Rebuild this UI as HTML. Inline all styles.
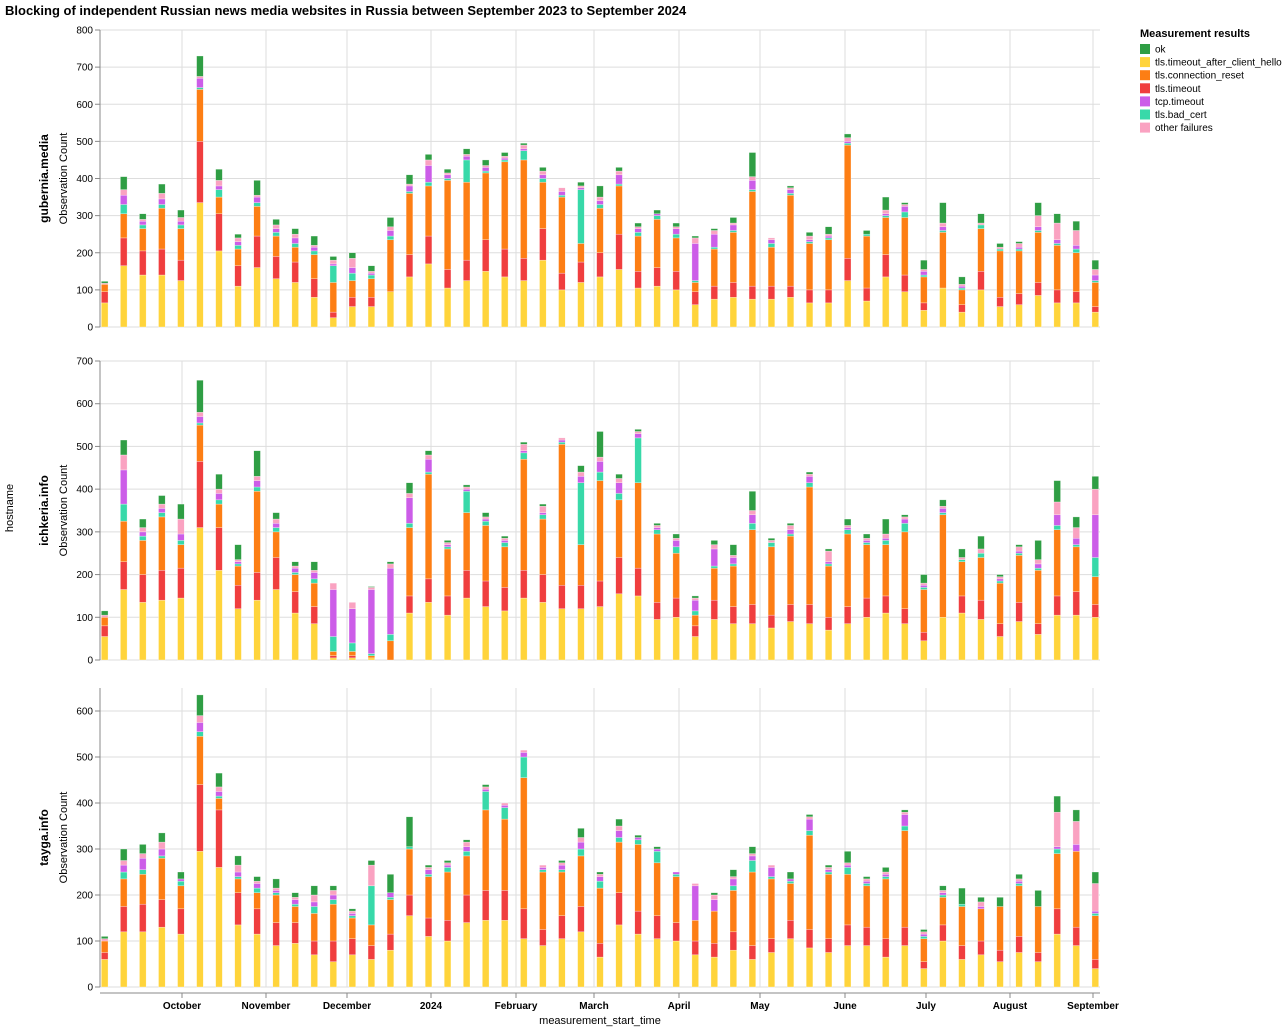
<!DOCTYPE html>
<html><head><meta charset="utf-8">
<style>
body{margin:0;background:#fff;}
svg text{font-family:"Liberation Sans",Arial,sans-serif;}
</style></head>
<body>
<svg id="s" width="1287" height="1030" xmlns="http://www.w3.org/2000/svg"></svg>
<script>
// data per bar: [yel, red, org, pur, teal, pink, green]
const P1=[[65,30,20,0,0,3,5],[165,75,65,25,25,15,35],[140,65,60,10,10,5,15],[140,70,110,15,10,15,25],[125,55,85,10,10,10,20],[335,165,140,25,5,5,55],[205,100,45,10,20,15,30],[110,55,45,10,10,10,10],[160,85,80,15,10,5,40],[130,60,55,10,10,10,15],[120,55,40,15,10,10,15],[80,50,65,10,10,5,25],[25,15,80,5,45,10,10],[55,25,45,15,20,25,15],[55,25,50,5,10,5,15],[95,0,140,15,10,10,25],[135,60,165,15,5,5,25],[170,75,135,45,10,15,15],[105,50,240,10,5,5,10],[125,55,210,10,60,5,15],[150,85,180,10,5,5,15],[135,75,235,5,5,5,10],[125,60,265,5,25,10,5],[180,85,125,10,10,10,10],[100,45,205,10,5,10,0],[120,55,50,5,145,5,10],[135,65,120,10,10,10,30],[155,95,130,25,5,10,10],[105,45,95,10,10,5,10],[110,50,130,5,10,0,10],[100,50,90,15,10,5,10],[60,35,25,100,5,15,5],[75,35,100,35,5,10,5],[80,40,135,15,5,5,15],[75,35,255,25,5,10,65],[75,35,105,10,10,5,0],[80,30,245,10,5,5,5],[65,35,125,5,5,10,10],[65,35,135,5,5,5,20],[125,60,305,5,5,10,10],[70,35,140,0,5,0,10],[135,60,100,5,5,10,35],[95,45,155,15,15,5,5],[45,20,70,10,5,5,25],[105,0,150,10,5,10,55],[40,20,40,5,5,5,20],[100,50,115,0,10,5,25],[55,25,125,0,5,5,10],[60,30,115,5,5,10,5],[85,35,135,10,5,30,35],[65,35,120,10,5,45,25],[65,30,105,10,10,40,25],[40,15,65,15,5,15,25]];
const P2=[[55,25,20,0,0,5,10],[165,65,95,80,40,35,35],[135,65,80,10,10,10,20],[140,70,125,10,10,10,20],[145,70,55,15,10,35,35],[310,155,85,15,5,10,75],[210,100,55,15,10,10,35],[120,55,45,5,5,5,35],[140,65,190,15,10,10,60],[165,75,60,10,10,10,15],[110,50,40,10,5,5,10],[85,40,55,15,10,5,20],[5,5,10,110,35,15,0],[5,5,10,80,20,15,0],[5,0,5,150,5,5,2],[0,0,45,155,15,10,5],[110,40,160,60,10,10,25],[135,55,245,30,5,10,10],[105,45,110,5,5,5,5],[145,65,135,5,50,5,5],[125,60,130,5,10,5,10],[115,55,95,5,10,5,5],[145,65,260,5,15,15,5],[135,65,130,5,10,15,5],[120,55,330,5,5,5,0],[120,55,95,15,145,10,15],[125,60,235,25,20,10,60],[155,85,135,25,15,10,10],[150,65,200,10,105,5,5],[95,40,160,5,10,5,5],[100,45,105,15,15,5,10],[55,25,25,25,10,5,5],[95,45,75,40,5,10,10],[85,40,95,15,5,5,25],[85,45,175,20,15,10,45],[75,30,160,0,10,5,5],[90,40,160,10,5,10,5],[85,45,275,15,10,5,5],[70,30,120,5,5,25,5],[85,40,170,5,10,5,15],[100,45,125,5,5,5,10],[110,40,120,5,10,10,35],[85,35,180,10,20,5,5],[45,20,100,5,5,5,20],[100,0,240,10,5,5,15],[110,40,80,0,5,5,20],[95,45,100,0,10,10,30],[55,30,95,5,5,5,5],[90,45,110,5,5,10,5],[60,25,125,10,5,10,45],[105,45,155,25,10,30,50],[105,55,105,15,5,25,25],[100,30,65,100,45,60,30]];
const P3=[[60,15,25,0,0,5,5],[120,55,60,15,15,10,25],[120,60,65,25,10,10,20],[130,60,90,15,5,15,20],[115,55,50,5,10,0,15],[295,145,105,20,10,15,45],[260,125,25,10,5,10,30],[135,70,30,10,5,15,20],[115,55,35,10,10,5,10],[90,50,60,5,5,5,20],[95,45,35,10,5,5,10],[70,30,60,10,15,15,20],[55,45,80,10,10,10,10],[70,35,45,5,5,5,5],[60,30,45,0,85,45,10],[80,35,75,10,5,0,40],[155,45,100,0,5,0,65],[110,40,90,10,5,5,5],[100,45,105,5,10,5,5],[140,60,85,10,10,10,5],[145,65,175,5,40,5,5],[145,65,155,5,25,5,0],[105,65,285,10,45,5,0],[90,35,125,5,5,5,0],[105,50,95,10,5,5,5],[120,55,110,15,15,10,20],[65,30,120,10,15,5,5],[135,70,110,15,10,10,15],[115,50,145,5,10,0,5],[105,50,115,5,25,0,5],[100,40,100,5,5,0,0],[70,30,45,75,0,5,0],[65,30,70,25,0,10,5],[80,40,90,15,10,5,15],[60,30,160,10,25,5,15],[75,30,130,20,5,5,0],[105,40,80,5,5,0,15],[85,40,205,25,10,5,5],[75,30,140,5,5,5,5],[90,45,110,5,15,5,25],[90,40,90,5,5,5,5],[65,40,130,5,5,5,10],[90,40,210,25,10,5,5],[40,15,50,5,5,5,5],[100,35,60,5,5,5,10],[60,30,85,0,5,0,35],[70,30,70,5,0,10,10],[55,25,95,0,0,0,20],[75,35,110,5,5,5,10],[55,20,100,0,0,0,35],[115,55,120,5,10,75,35],[90,40,165,15,0,50,25],[40,20,95,5,5,60,25]];
const C={y:"#ffd43b",r:"#f03e3e",o:"#fd7e14",p:"#cc5de8",t:"#38d9a9",k:"#faa2c1",g:"#2f9e44"};
const order=[[0,C.y],[1,C.r],[2,C.o],[4,C.t],[3,C.p],[5,C.k],[6,C.g]];
const months=[["October",182],["November",266],["December",347],["2024",431],["February",516],["March",594],["April",679],["May",760],["June",845],["July",926],["August",1010],["September",1093]];
let h='';
h+='<text x="5" y="15" font-size="13" font-weight="bold">Blocking of independent Russian news media websites in Russia between September 2023 to September 2024</text>';
function panel(data,top,bottom,max,domTop,name){
  const sc=(bottom-top)/domTop;
  for(const m of months) h+=`<line x1="${m[1]}" y1="${top}" x2="${m[1]}" y2="${bottom}" stroke="#ddd"/>`;
  for(let v=0;v<=max;v+=100){const y=bottom-v*sc;
    h+=`<line x1="100" y1="${y}" x2="1100" y2="${y}" stroke="#ddd"/>`;
    h+=`<line x1="95" y1="${y}" x2="100" y2="${y}" stroke="#888"/>`;
    h+=`<text x="93" y="${y+3.5}" font-size="10" text-anchor="end">${v}</text>`;}
  h+=`<line x1="100" y1="${top}" x2="100" y2="${bottom}" stroke="#888"/>`;
  data.forEach((d,i)=>{const cx=104.7+i*19.05;let w=6.7,x=cx-w/2;let acc=0;
    for(const [k,c] of order){const v=d[k];if(!v)continue;const y1=bottom-(acc+v)*sc;
      h+=`<rect x="${x}" y="${y1}" width="${w}" height="${v*sc}" fill="${c}" stroke="#fff" stroke-width="0.5" stroke-opacity="0.6"/>`;acc+=v;}
  });
  const mid=(top+bottom)/2;
  h+=`<text transform="translate(67,${mid}) rotate(-90)" font-size="11" text-anchor="middle">Observation Count</text>`;
  h+=`<text transform="translate(48,${mid}) rotate(-90)" font-size="12" font-weight="bold" text-anchor="middle">${name}</text>`;
}
panel(P1,30,327,800,800,"gubernia.media");
panel(P2,361,660,700,700,"ichkeria.info");
panel(P3,688,987,600,650,"tayga.info");
h+='<line x1="100" y1="993" x2="1100" y2="993" stroke="#888"/>';
for(const m of months){h+=`<line x1="${m[1]}" y1="993" x2="${m[1]}" y2="998" stroke="#888"/>`;
  h+=`<text x="${m[1]}" y="1009" font-size="10" font-weight="bold" text-anchor="middle">${m[0]}</text>`;}
h+='<text x="600" y="1024" font-size="11" text-anchor="middle">measurement_start_time</text>';
h+='<text transform="translate(13,508) rotate(-90)" font-size="11" text-anchor="middle">hostname</text>';
h+='<text x="1140" y="37" font-size="11" font-weight="bold">Measurement results</text>';
const leg=[["ok",C.g],["tls.timeout_after_client_hello",C.y],["tls.connection_reset",C.o],["tls.timeout",C.r],["tcp.timeout",C.p],["tls.bad_cert",C.t],["other failures",C.k]];
leg.forEach((l,i)=>{const y=49+i*13.1;
  h+=`<rect x="1140" y="${y-5}" width="10" height="10" fill="${l[1]}"/>`;
  h+=`<text x="1155" y="${y+3.5}" font-size="10">${l[0]}</text>`;});
document.getElementById('s').innerHTML=h;
</script>
</body></html>
